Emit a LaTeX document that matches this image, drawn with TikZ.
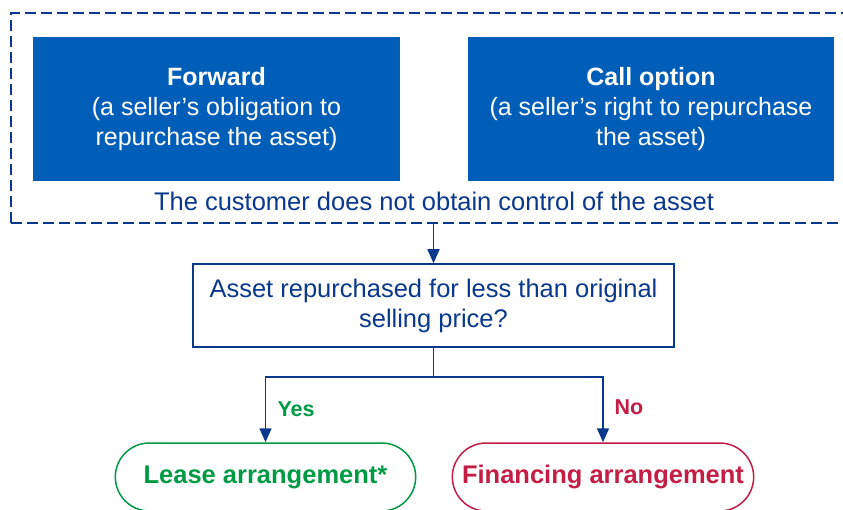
\documentclass[tikz,border=0pt]{standalone}
\usepackage{fontspec}
\setmainfont{Liberation Sans}
\usetikzlibrary{arrows.meta,shapes.misc}
\definecolor{boxblue}{RGB}{0,94,184}
\definecolor{navy}{RGB}{10,56,140}
\definecolor{okgreen}{RGB}{0,154,68}
\definecolor{nored}{RGB}{196,30,70}
\begin{document}
\begin{tikzpicture}[x=1pt,y=-1pt,
  bluebox/.style={fill=boxblue,draw=none,text=white,align=center,font=\fontsize{25}{30}\selectfont},
  qbox/.style={draw=navy,line width=1.5pt,text=navy,align=center,font=\fontsize{25.5}{30}\selectfont},
  endbox/.style={rounded rectangle,line width=1.5pt,font=\bfseries\fontsize{25.5}{28}\selectfont},
  conn/.style={draw=navy,line width=1.5pt},
  arr/.style={conn,-{Triangle[length=14pt,width=12pt]}},
  lab/.style={font=\bfseries\fontsize{21.5}{24}\selectfont,anchor=west}]
\useasboundingbox (0,0) rectangle (843,510);
\clip (0,0) rectangle (843,510);
% dashed frame
\draw[navy,line width=1.5pt,dash pattern=on 11pt off 5pt] (11,223) -- (11,13) -- (860,13);
\draw[navy,line width=1.5pt,dash pattern=on 11pt off 5pt] (11,223) -- (860,223);
\node[bluebox,minimum width=367pt,minimum height=144pt] (fwd) at (216.5,109)
  {\textbf{Forward}\\(a seller’s obligation to\\repurchase the asset)};
\node[bluebox,minimum width=366pt,minimum height=144pt] (call) at (651,109)
  {\textbf{Call option}\\(a seller’s right to repurchase\\the asset)};
\node[text=navy,font=\fontsize{25.5}{28}\selectfont] (ctrl) at (434,201) {The customer does not obtain control of the asset};
\coordinate (ftop) at (433.5,223);
\node[qbox,minimum width=481pt,minimum height=83pt] (q) at (433.5,305.5)
  {Asset repurchased for less than original\\selling price?};
\node[endbox,draw=okgreen,text=okgreen,minimum width=307pt,minimum height=68pt] (lease) at (265.5,477) {Lease arrangement*};
\node[endbox,draw=nored,text=nored,minimum width=308pt,minimum height=68pt] (fin) at (603,477) {Financing arrangement};
\draw[arr] (ftop) -- (q.north);
\coordinate (split) at (433.5,377);
\draw[conn] (q.south) -- (split);
\draw[arr] (split) -| (lease.north);
\draw[arr] (split) -| (fin.north);
\node[lab,text=okgreen] (yes) at (274,409) {Yes};
\node[lab,text=nored] (no) at (611,407) {No};
\end{tikzpicture}
\end{document}
